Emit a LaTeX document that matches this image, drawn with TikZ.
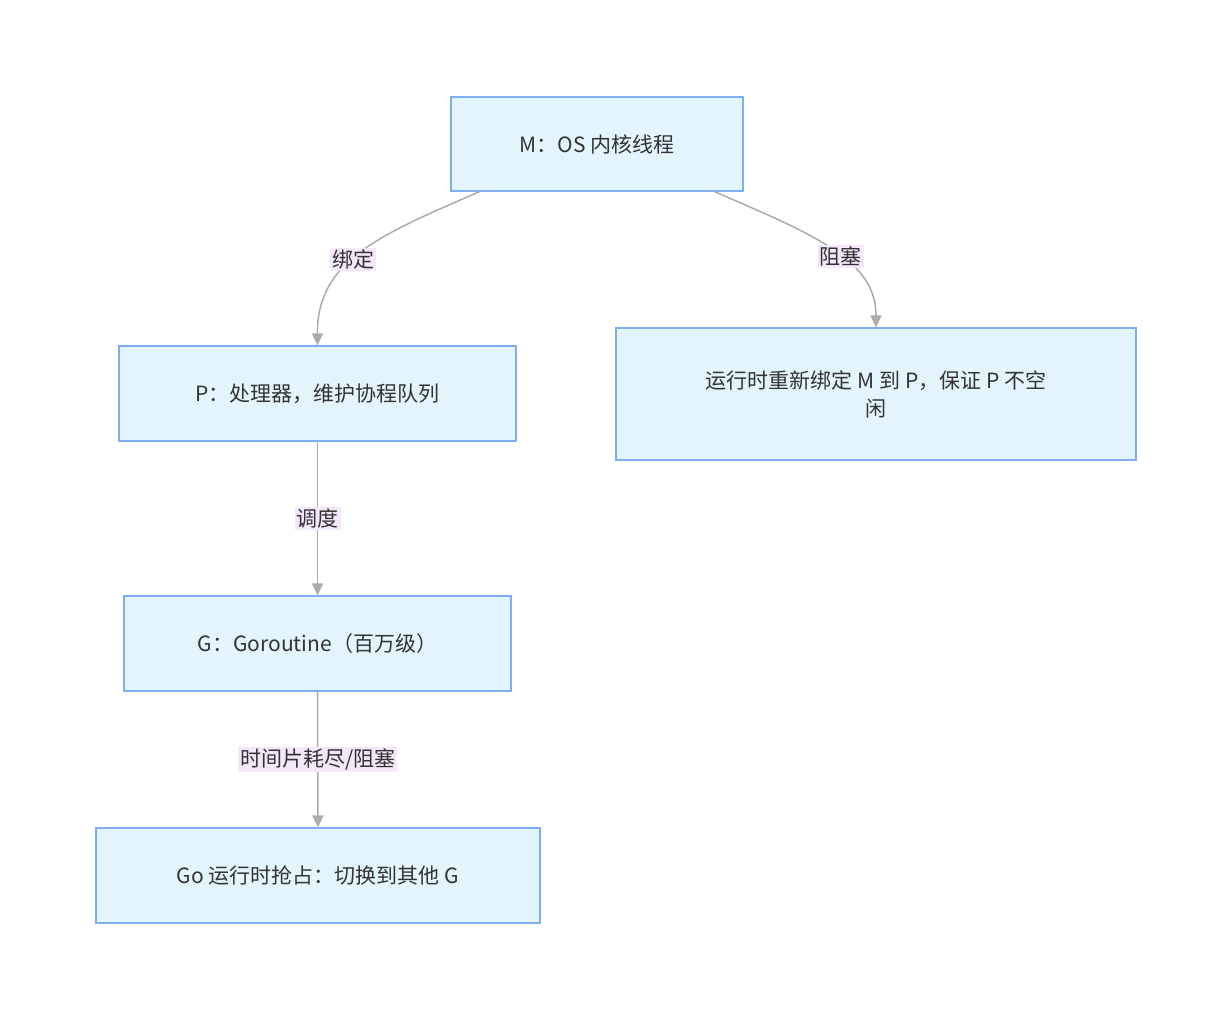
\documentclass[tikz,border=0pt]{standalone}
\usepackage{fontspec}
\setmainfont{Noto Sans CJK SC}
\usetikzlibrary{arrows.meta}
\definecolor{boxfill}{HTML}{E3F4FC}
\definecolor{boxdraw}{HTML}{7FADF2}
\definecolor{edge}{HTML}{ABABAB}
\definecolor{lblfill}{HTML}{F3E8FA}
\definecolor{txt}{HTML}{333333}
\begin{document}
\begin{tikzpicture}[x=1pt,y=-1pt,
  box/.style={draw=boxdraw,fill=boxfill,line width=1.3pt,inner sep=0pt,font=\fontsize{21}{28}\selectfont,text=txt},
  lbl/.style={fill=lblfill,inner sep=2pt,font=\fontsize{21}{24}\selectfont,text=txt},
  conn/.style={draw=edge,line width=1.5pt,-{Triangle[length=12pt,width=11pt,fill=edge!80!black!70]}}]
\useasboundingbox (0,0) rectangle (1232,1020);
\node[box,minimum width=292pt,minimum height=94pt] (M) at (597,144) {M：OS 内核线程};
\node[box,minimum width=397pt,minimum height=95pt] (P) at (317.5,393.5) {P：处理器，维护协程队列};
\node[box,minimum width=520pt,minimum height=132pt,align=center] (R) at (876,394) {运行时重新绑定 M 到 P，保证 P 不空\\闲};
\node[box,minimum width=387pt,minimum height=95pt] (G) at (317.5,643.5) {G：Goroutine（百万级）};
\node[box,minimum width=444pt,minimum height=95pt] (Go) at (318,875.5) {Go 运行时抢占：切换到其他 G};
\coordinate (m1) at (481,191);
\coordinate (m2) at (713,191);
\draw[conn] (m1) .. controls (380,235) and (317,260) .. node[lbl,pos=0.55] {绑定} (P.north);
\draw[conn] (m2) .. controls (815,235) and (876,260) .. node[lbl,pos=0.55] {阻塞} (R.north);
\draw[conn] (P) -- node[lbl] {调度} (G);
\draw[conn] (G) -- node[lbl] {时间片耗尽/阻塞} (Go);
\end{tikzpicture}
\end{document}
